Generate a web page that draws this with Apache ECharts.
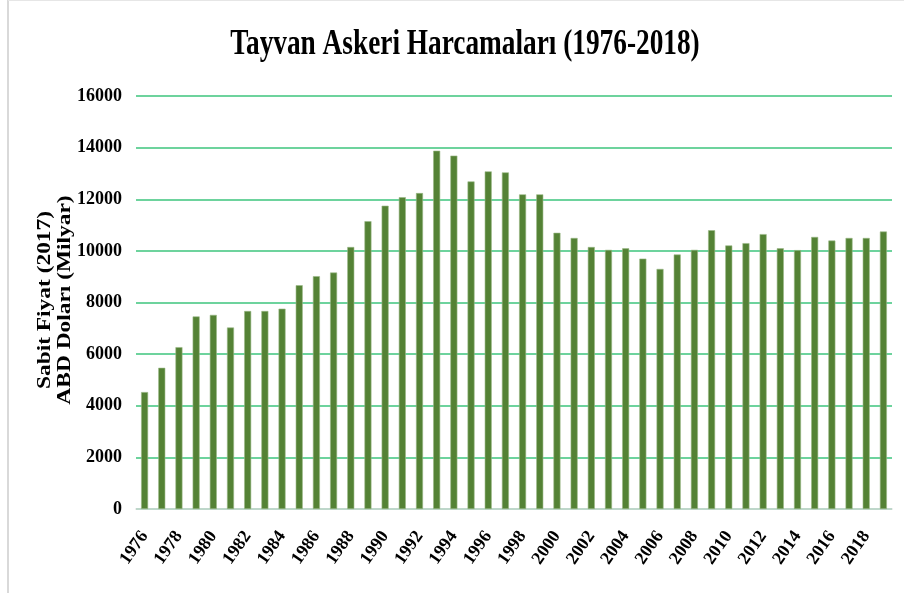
<!DOCTYPE html>
<html>
<head>
<meta charset="utf-8">
<script src="https://cdn.jsdelivr.net/npm/echarts@6/dist/echarts.min.js"></script>
<style>
  html, body { margin: 0; padding: 0; background: #fff; }
  #chart { width: 904px; height: 593px; }
</style>
</head>
<body>
<div id="chart"></div>
<script>
// yıllar ve harcamalar (milyon $, sabit 2017 fiyatı)
const years = [];
for (let y = 1976; y <= 2019; y++) years.push(String(y));

const spending = [
  4530, 5470, 6270, 7460, 7520, 7030, 7670, 7670, 7760, 8670,
  9020, 9160, 10150, 11150, 11750, 12080, 12240, 13880, 13690, 12690,
  13080, 13040, 12190, 12190, 10700, 10500, 10150, 10040, 10100, 9700,
  9300, 9860, 10040, 10800, 10210, 10300, 10650, 10100, 10030, 10540,
  10400, 10500, 10500, 10750
];

const yTicks = { min: 0, max: 16000, interval: 2000 };

const serif = "'Liberation Serif', 'DejaVu Serif', serif";

const chart = echarts.init(document.getElementById('chart'));

chart.setOption({
  animation: false,
  backgroundColor: '#fff',
  graphic: [
    {
      type: 'text',
      x: 465,
      y: 45,
      scaleX: 0.78,
      style: {
        text: 'Tayvan Askeri Harcamaları (1976-2018)',
        font: 'bold 35px ' + serif,
        fill: '#000',
        textAlign: 'center',
        textVerticalAlign: 'middle'
      }
    },
    // eksen başlığı (dikey, biraz gerilmiş)
    {
      type: 'text',
      x: 55,
      y: 300,
      rotation: Math.PI / 2,
      scaleX: 1.3,
      style: {
        text: 'Sabit Fiyat (2017)\nABD Doları (Milyar)',
        font: 'bold 18px ' + serif,
        lineHeight: 20,
        fill: '#000',
        textAlign: 'center',
        textVerticalAlign: 'middle'
      }
    },
    // çerçeve
    { type: 'line', shape: { x1: 8, y1: 0, x2: 8, y2: 593 }, style: { stroke: '#d9d9d9', lineWidth: 2 } },
    { type: 'line', shape: { x1: 8, y1: 0.5, x2: 904, y2: 0.5 }, style: { stroke: '#e6e6e6', lineWidth: 1 } }
  ],
  grid: { left: 136, right: 12, top: 96, bottom: 84 },
  xAxis: {
    type: 'category',
    data: years,
    axisTick: { show: false },
    axisLine: { lineStyle: { color: '#d9d9d9', width: 1.5 } },
    axisLabel: {
      interval: 1,
      rotate: 55,
      margin: 24,
      fontFamily: serif,
      fontWeight: 'bold',
      fontSize: 18,
      color: '#000'
    }
  },
  yAxis: {
    type: 'value',
    min: yTicks.min,
    max: yTicks.max,
    interval: yTicks.interval,
    axisLine: { show: false },
    axisTick: { show: false },
    axisLabel: {
      margin: 14,
      formatter: v => String(v),
      fontFamily: serif,
      fontWeight: 'bold',
      fontSize: 18,
      color: '#000'
    },
    splitLine: { lineStyle: { color: '#3cc47c', width: 1.5 } }
  },
  series: [
    {
      type: 'bar',
      data: spending,
      barWidth: 7,
      itemStyle: { color: '#548235', borderColor: '#9bb887', borderWidth: 0.6 }
    }
  ]
});
</script>
</body>
</html>
